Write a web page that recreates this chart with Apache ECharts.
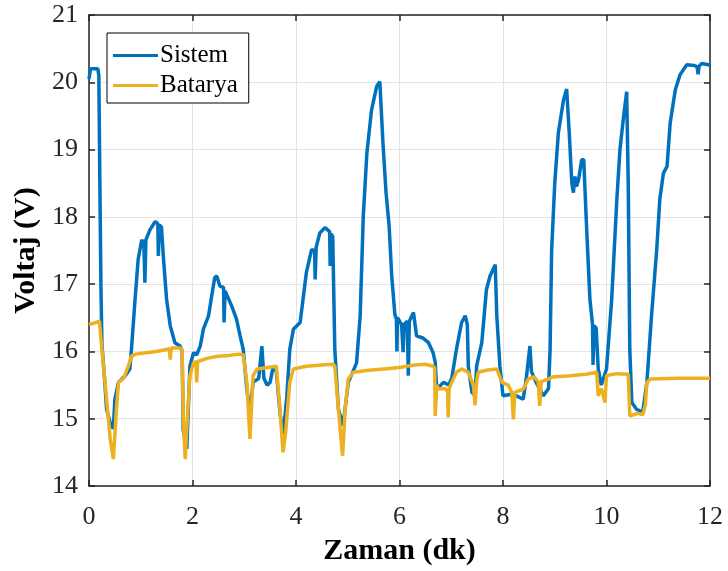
<!DOCTYPE html>
<html>
<head>
<meta charset="utf-8">
<script src="https://cdn.jsdelivr.net/npm/echarts@6/dist/echarts.min.js"></script>
<style>
html,body{margin:0;padding:0;background:#fff;}
#chart{width:728px;height:571px;}
</style>
</head>
<body>
<div id="chart"></div>
<script>
var xTicks = [0, 2, 4, 6, 8, 10, 12];
var yTicks = [14, 15, 16, 17, 18, 19, 20, 21];
var seriesNames = ['Sistem', 'Batarya'];

var sistemX = [0.00,0.03,0.17,0.19,0.21,0.23,0.25,0.30,0.34,0.41,0.47,0.50,0.57,0.70,0.79,0.82,0.89,0.95,1.02,1.06,1.08,1.10,1.18,1.28,1.33,1.34,1.36,1.40,1.44,1.50,1.57,1.66,1.76,1.80,1.82,1.89,1.95,2.02,2.08,2.15,2.21,2.31,2.37,2.43,2.47,2.53,2.60,2.61,2.63,2.66,2.76,2.85,2.92,2.98,3.05,3.11,3.17,3.28,3.34,3.38,3.44,3.50,3.56,3.62,3.69,3.75,3.82,3.88,3.95,4.08,4.20,4.30,4.36,4.37,4.39,4.46,4.56,4.65,4.66,4.68,4.71,4.72,4.75,4.82,4.91,5.01,5.10,5.17,5.24,5.30,5.37,5.46,5.56,5.62,5.68,5.74,5.80,5.85,5.91,5.94,5.95,5.96,6.04,6.07,6.09,6.15,6.17,6.19,6.27,6.33,6.45,6.56,6.65,6.69,6.72,6.85,6.95,7.01,7.10,7.20,7.27,7.31,7.33,7.40,7.46,7.49,7.59,7.68,7.75,7.85,7.88,7.94,8.00,8.13,8.26,8.39,8.45,8.52,8.55,8.64,8.78,8.88,8.91,8.94,9.00,9.07,9.17,9.23,9.28,9.33,9.36,9.39,9.42,9.46,9.52,9.56,9.62,9.68,9.73,9.74,9.76,9.80,9.84,9.90,10.00,10.10,10.20,10.26,10.33,10.39,10.42,10.45,10.49,10.58,10.70,10.78,10.87,10.97,11.03,11.10,11.17,11.23,11.33,11.42,11.55,11.70,11.75,11.77,11.79,11.84,11.97,12.00];
var sistemY = [20.05,20.2,20.2,20.1,18.5,17.0,16.1,15.6,15.14,14.94,14.85,15.29,15.54,15.64,15.74,16.03,16.77,17.37,17.66,17.6,17.02,17.66,17.81,17.93,17.9,17.42,17.88,17.85,17.37,16.77,16.38,16.13,16.08,16.0,14.84,14.55,15.78,15.98,15.95,16.08,16.33,16.53,16.82,17.1,17.12,16.97,16.95,16.43,16.9,16.92,16.67,16.48,16.23,16.03,15.44,15.1,15.54,15.6,16.08,15.6,15.5,15.54,15.78,15.7,15.1,14.75,15.3,16.03,16.33,16.43,17.17,17.51,17.5,17.07,17.55,17.76,17.84,17.78,17.27,17.75,17.7,17.27,16.03,15.14,14.9,15.54,15.7,15.83,16.53,18.01,18.95,19.59,19.94,20.01,19.1,18.36,17.86,17.12,16.55,16.48,16.0,16.5,16.4,15.99,16.4,16.45,15.64,16.45,16.58,16.23,16.2,16.13,15.98,15.84,15.44,15.54,15.5,15.6,16.03,16.43,16.53,16.4,15.78,15.39,15.35,15.78,16.13,16.92,17.12,17.29,16.53,15.78,15.34,15.36,15.34,15.29,15.6,16.08,15.7,15.54,15.34,15.45,16.03,17.51,18.5,19.25,19.74,19.9,19.25,18.5,18.36,18.6,18.45,18.55,18.85,18.85,17.76,16.77,16.4,15.8,16.38,16.35,15.74,15.5,15.74,16.77,18.26,19.0,19.49,19.86,18.5,16.03,15.24,15.14,15.1,15.54,16.53,17.51,18.26,18.65,18.75,19.39,19.89,20.11,20.26,20.25,20.23,20.12,20.24,20.28,20.26,20.25];

var bataryaX = [0.00,0.10,0.20,0.25,0.31,0.37,0.41,0.44,0.47,0.50,0.53,0.57,0.67,0.76,0.82,0.90,1.10,1.30,1.50,1.55,1.57,1.59,1.76,1.80,1.82,1.86,1.90,1.95,2.02,2.07,2.08,2.10,2.30,2.50,2.70,2.90,2.98,3.05,3.11,3.17,3.25,3.45,3.62,3.69,3.75,3.80,3.88,3.95,4.20,4.50,4.72,4.75,4.82,4.90,4.95,5.01,5.11,5.40,5.70,6.00,6.30,6.50,6.65,6.68,6.69,6.72,6.75,6.88,6.93,6.94,6.96,7.01,7.10,7.20,7.33,7.43,7.46,7.49,7.52,7.68,7.88,7.98,8.10,8.17,8.20,8.23,8.39,8.49,8.60,8.68,8.71,8.74,8.88,8.95,9.30,9.60,9.81,9.84,9.90,9.97,10.00,10.20,10.42,10.45,10.60,10.70,10.75,10.78,10.85,11.40,11.97,12.00];
var bataryaY = [16.4,16.42,16.45,16.03,15.54,15.04,14.7,14.68,14.4,14.75,15.14,15.54,15.6,15.78,15.93,15.96,15.98,16.0,16.03,16.04,15.88,16.05,16.05,16.02,15.04,14.4,15.0,15.64,15.83,15.85,15.54,15.85,15.9,15.93,15.94,15.96,15.95,15.54,14.7,15.64,15.74,15.76,15.78,15.14,14.5,14.8,15.54,15.74,15.78,15.8,15.81,15.78,15.14,14.45,15.14,15.59,15.69,15.72,15.74,15.76,15.8,15.81,15.78,15.75,15.04,15.5,15.44,15.45,15.4,15.02,15.45,15.54,15.69,15.74,15.69,15.49,15.2,15.55,15.69,15.72,15.74,15.54,15.5,15.39,14.99,15.39,15.44,15.59,15.62,15.55,15.19,15.55,15.59,15.62,15.64,15.66,15.69,15.34,15.45,15.24,15.64,15.67,15.66,15.04,15.08,15.06,15.2,15.54,15.59,15.6,15.6,15.6];

function zip(xs, ys) { return xs.map(function (x, i) { return [x, ys[i]]; }); }

var FONT = '"Liberation Serif", "Times New Roman", serif';
var AX = '#262626';
var chart = echarts.init(document.getElementById('chart'), null, {renderer: 'canvas'});

var xMin = xTicks[0], xMax = xTicks[xTicks.length - 1], xInt = xTicks[1] - xTicks[0];
var yMin = yTicks[0], yMax = yTicks[yTicks.length - 1], yInt = yTicks[1] - yTicks[0];

chart.setOption({
  animation: false,
  backgroundColor: '#ffffff',
  grid: {left: 89, right: 18, top: 15, bottom: 84, containLabel: false},
  legend: {
    orient: 'vertical',
    left: 107, top: 33,
    padding: [10, 11, 5, 6],
    itemGap: 5,
    itemWidth: 45, itemHeight: 3,
    icon: 'rect',
    backgroundColor: '#ffffff',
    borderColor: '#000000', borderWidth: 1,
    textStyle: {fontFamily: FONT, fontSize: 25, color: '#000', padding: [0, 0, 0, -3], lineHeight: 25},
    data: seriesNames
  },
  xAxis: [{
    type: 'value', min: xMin, max: xMax, interval: xInt,
    name: 'Zaman (dk)', nameLocation: 'middle', nameGap: 50,
    nameTextStyle: {fontFamily: FONT, fontSize: 30, fontWeight: 'bold', color: '#000'},
    axisLine: {show: true, onZero: false, lineStyle: {color: AX, width: 1.5}},
    axisTick: {show: true, inside: true, length: 6, lineStyle: {color: AX, width: 1.5}},
    axisLabel: {fontFamily: FONT, fontSize: 26, color: AX, margin: 18},
    splitLine: {show: true, lineStyle: {color: '#e3e3e3', width: 1}}
  }, {
    type: 'value', position: 'top', min: xMin, max: xMax, interval: xInt,
    axisLine: {show: true, onZero: false, lineStyle: {color: AX, width: 1.5}},
    axisTick: {show: true, inside: true, length: 6, lineStyle: {color: AX, width: 1.5}},
    axisLabel: {show: false}, splitLine: {show: false}
  }],
  yAxis: [{
    type: 'value', min: yMin, max: yMax, interval: yInt,
    name: 'Voltaj (V)', nameLocation: 'middle', nameGap: 42,
    nameTextStyle: {fontFamily: FONT, fontSize: 30, fontWeight: 'bold', color: '#000'},
    axisLine: {show: true, onZero: false, lineStyle: {color: AX, width: 1.5}},
    axisTick: {show: true, inside: true, length: 6, lineStyle: {color: AX, width: 1.5}},
    axisLabel: {fontFamily: FONT, fontSize: 26, color: AX, margin: 11},
    splitLine: {show: true, lineStyle: {color: '#e3e3e3', width: 1}}
  }, {
    type: 'value', position: 'right', min: yMin, max: yMax, interval: yInt,
    axisLine: {show: true, onZero: false, lineStyle: {color: AX, width: 1.5}},
    axisTick: {show: true, inside: true, length: 6, lineStyle: {color: AX, width: 1.5}},
    axisLabel: {show: false}, splitLine: {show: false}
  }],
  series: [{
    name: seriesNames[0], type: 'line', showSymbol: false, symbol: 'none',
    data: zip(sistemX, sistemY),
    itemStyle: {color: '#0072BD'},
    lineStyle: {color: '#0072BD', width: 3.5},
    z: 2
  }, {
    name: seriesNames[1], type: 'line', showSymbol: false, symbol: 'none',
    data: zip(bataryaX, bataryaY),
    itemStyle: {color: '#EDB120'},
    lineStyle: {color: '#EDB120', width: 3.5},
    z: 3
  }]
});
</script>
</body>
</html>
